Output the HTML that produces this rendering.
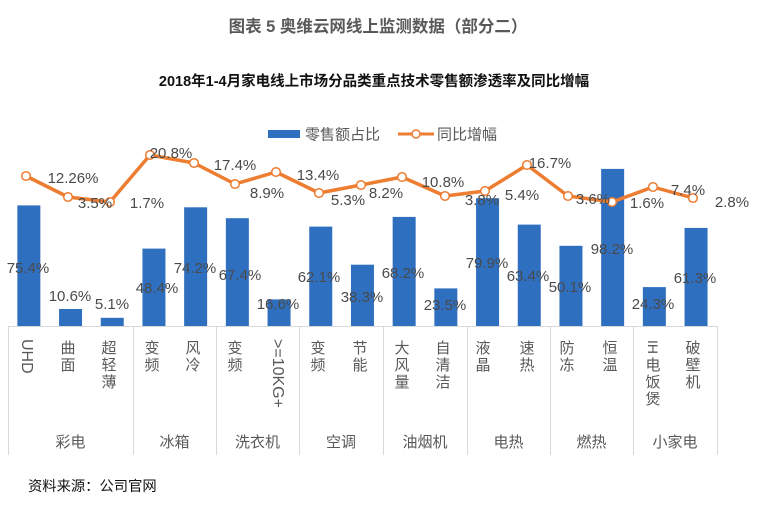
<!DOCTYPE html>
<html>
<head>
<meta charset="utf-8">
<style>
html,body{margin:0;padding:0;background:#fff;}
svg{display:block;}
text{font-family:"Liberation Sans","Noto Sans CJK SC",sans-serif;}
</style>
</head>
<body>
<svg width="758" height="508" viewBox="0 0 758 508" xmlns="http://www.w3.org/2000/svg">
<rect width="758" height="508" fill="#fff"/>
<!-- titles -->
<text x="378" y="32" text-anchor="middle" font-size="16.5" font-weight="bold" fill="#595959">图表 5 奥维云网线上监测数据（部分二）</text>
<text x="374" y="86" text-anchor="middle" font-size="14.5" font-weight="bold" fill="#111">2018年1-4月家电线上市场分品类重点技术零售额渗透率及同比增幅</text>
<!-- legend -->
<rect x="268" y="130" width="32" height="8" fill="#2F6FC0"/>
<text x="305" y="139.5" font-size="15" fill="#595959">零售额占比</text>
<line x1="398" y1="134" x2="434" y2="134" stroke="#ED7D31" stroke-width="3"/>
<circle cx="416" cy="134" r="4" fill="#fff" stroke="#ED7D31" stroke-width="1.5"/>
<text x="437" y="139.5" font-size="15" fill="#595959">同比增幅</text>

<!-- bars -->
<g fill="#2F6FC0">
<rect x="17.35" y="205.4" width="23" height="120.6"/>
<rect x="59.05" y="309.0" width="23" height="17.0"/>
<rect x="100.75" y="317.8" width="23" height="8.2"/>
<rect x="142.45" y="248.6" width="23" height="77.4"/>
<rect x="184.15" y="207.3" width="23" height="118.7"/>
<rect x="225.85" y="218.2" width="23" height="107.8"/>
<rect x="267.55" y="299.4" width="23" height="26.6"/>
<rect x="309.25" y="226.6" width="23" height="99.4"/>
<rect x="350.95" y="264.7" width="23" height="61.3"/>
<rect x="392.65" y="216.9" width="23" height="109.1"/>
<rect x="434.35" y="288.4" width="23" height="37.6"/>
<rect x="476.05" y="198.2" width="23" height="127.8"/>
<rect x="517.75" y="224.6" width="23" height="101.4"/>
<rect x="559.45" y="245.8" width="23" height="80.2"/>
<rect x="601.15" y="168.9" width="23" height="157.1"/>
<rect x="642.85" y="287.1" width="23" height="38.9"/>
<rect x="684.55" y="227.9" width="23" height="98.1"/>
</g>

<!-- axis & separators -->
<g stroke="#d9d9d9" stroke-width="1">
<line x1="8" y1="326.5" x2="717" y2="326.5"/>
<line x1="8.5" y1="326" x2="8.5" y2="455"/>
<line x1="133.5" y1="326" x2="133.5" y2="455"/>
<line x1="216.5" y1="326" x2="216.5" y2="455"/>
<line x1="299.5" y1="326" x2="299.5" y2="455"/>
<line x1="383.5" y1="326" x2="383.5" y2="455"/>
<line x1="467.5" y1="326" x2="467.5" y2="455"/>
<line x1="550.5" y1="326" x2="550.5" y2="455"/>
<line x1="633.5" y1="326" x2="633.5" y2="455"/>
<line x1="717.5" y1="326" x2="717.5" y2="455"/>
</g>

<!-- line series -->
<polyline fill="none" stroke="#ED7D31" stroke-width="3.5" stroke-linejoin="round"
points="26,176 68,197 110,202 150,155 194,163 235,184 276,172 319,193 361,185 402,177 445,196 485,191 527,165 568,196 612,202 653,187 693,198"/>
<g fill="#fff" stroke="#ED7D31" stroke-width="1.5">
<circle cx="26" cy="176" r="4.3"/><circle cx="68" cy="197" r="4.3"/><circle cx="110" cy="202" r="4.3"/>
<circle cx="150" cy="155" r="4.3"/><circle cx="194" cy="163" r="4.3"/><circle cx="235" cy="184" r="4.3"/>
<circle cx="276" cy="172" r="4.3"/><circle cx="319" cy="193" r="4.3"/><circle cx="361" cy="185" r="4.3"/>
<circle cx="402" cy="177" r="4.3"/><circle cx="445" cy="196" r="4.3"/><circle cx="485" cy="191" r="4.3"/>
<circle cx="527" cy="165" r="4.3"/><circle cx="568" cy="196" r="4.3"/><circle cx="612" cy="202" r="4.3"/>
<circle cx="653" cy="187" r="4.3"/><circle cx="693" cy="198" r="4.3"/>
</g>

<!-- data labels -->
<g font-size="15" fill="#4a4a4a" text-anchor="middle">
<text x="73" y="183">12.26%</text>
<text x="95" y="208">3.5%</text>
<text x="147" y="208">1.7%</text>
<text x="171" y="158">20.8%</text>
<text x="235" y="170">17.4%</text>
<text x="267" y="198">8.9%</text>
<text x="318" y="180">13.4%</text>
<text x="348" y="205">5.3%</text>
<text x="386" y="198">8.2%</text>
<text x="443" y="187">10.8%</text>
<text x="482" y="205">3.8%</text>
<text x="522" y="200">5.4%</text>
<text x="550" y="168">16.7%</text>
<text x="593" y="204">3.6%</text>
<text x="647" y="208">1.6%</text>
<text x="688" y="195">7.4%</text>
<text x="732" y="207">2.8%</text>

<text x="28" y="273">75.4%</text>
<text x="70" y="301">10.6%</text>
<text x="112" y="309">5.1%</text>
<text x="157" y="293">48.4%</text>
<text x="195" y="273">74.2%</text>
<text x="240" y="280">67.4%</text>
<text x="278" y="309">16.6%</text>
<text x="319" y="282">62.1%</text>
<text x="362" y="302">38.3%</text>
<text x="403" y="278">68.2%</text>
<text x="445" y="310">23.5%</text>
<text x="487" y="268">79.9%</text>
<text x="528" y="281">63.4%</text>
<text x="570" y="292">50.1%</text>
<text x="612" y="254">98.2%</text>
<text x="653" y="309">24.3%</text>
<text x="695" y="283">61.3%</text>
</g>

<!-- category labels (vertical) -->
<g font-size="15" fill="#595959" text-anchor="middle">
<text transform="translate(22,339) rotate(90)" x="0" y="0" text-anchor="start" font-size="16">UHD</text>
<text x="68" y="353">曲</text><text x="68" y="370">面</text>
<text x="109" y="353">超</text><text x="109" y="370">轻</text><text x="109" y="387">薄</text>
<text x="152" y="353">变</text><text x="152" y="370">频</text>
<text x="193" y="353">风</text><text x="193" y="370">冷</text>
<text x="235" y="353">变</text><text x="235" y="370">频</text>
<text transform="translate(273,339) rotate(90)" x="0" y="0" text-anchor="start" font-size="16">&gt;=10KG+</text>
<text x="318" y="353">变</text><text x="318" y="370">频</text>
<text x="360" y="353">节</text><text x="360" y="370">能</text>
<text x="402" y="353">大</text><text x="402" y="370">风</text><text x="402" y="387">量</text>
<text x="443" y="353">自</text><text x="443" y="370">清</text><text x="443" y="387">洁</text>
<text x="483" y="353">液</text><text x="483" y="370">晶</text>
<text x="527" y="353">速</text><text x="527" y="370">热</text>
<text x="567" y="353">防</text><text x="567" y="370">冻</text>
<text x="610" y="353">恒</text><text x="610" y="370">温</text>
<text transform="translate(648,340) rotate(90)" x="0" y="0" text-anchor="start" font-size="14">IH</text>
<text x="653" y="370">电</text><text x="653" y="387">饭</text><text x="653" y="404">煲</text>
<text x="693" y="353">破</text><text x="693" y="370">壁</text><text x="693" y="387">机</text>
</g>

<!-- group labels -->
<g font-size="15" fill="#595959" text-anchor="middle">
<text x="70.5" y="447">彩电</text>
<text x="174.5" y="447">冰箱</text>
<text x="257.5" y="447">洗衣机</text>
<text x="341" y="447">空调</text>
<text x="425" y="447">油烟机</text>
<text x="508.5" y="447">电热</text>
<text x="591.5" y="447">燃热</text>
<text x="675" y="447">小家电</text>
</g>

<text x="28" y="491" font-size="14.3" fill="#111">资料来源：公司官网</text>
</svg>
</body>
</html>
